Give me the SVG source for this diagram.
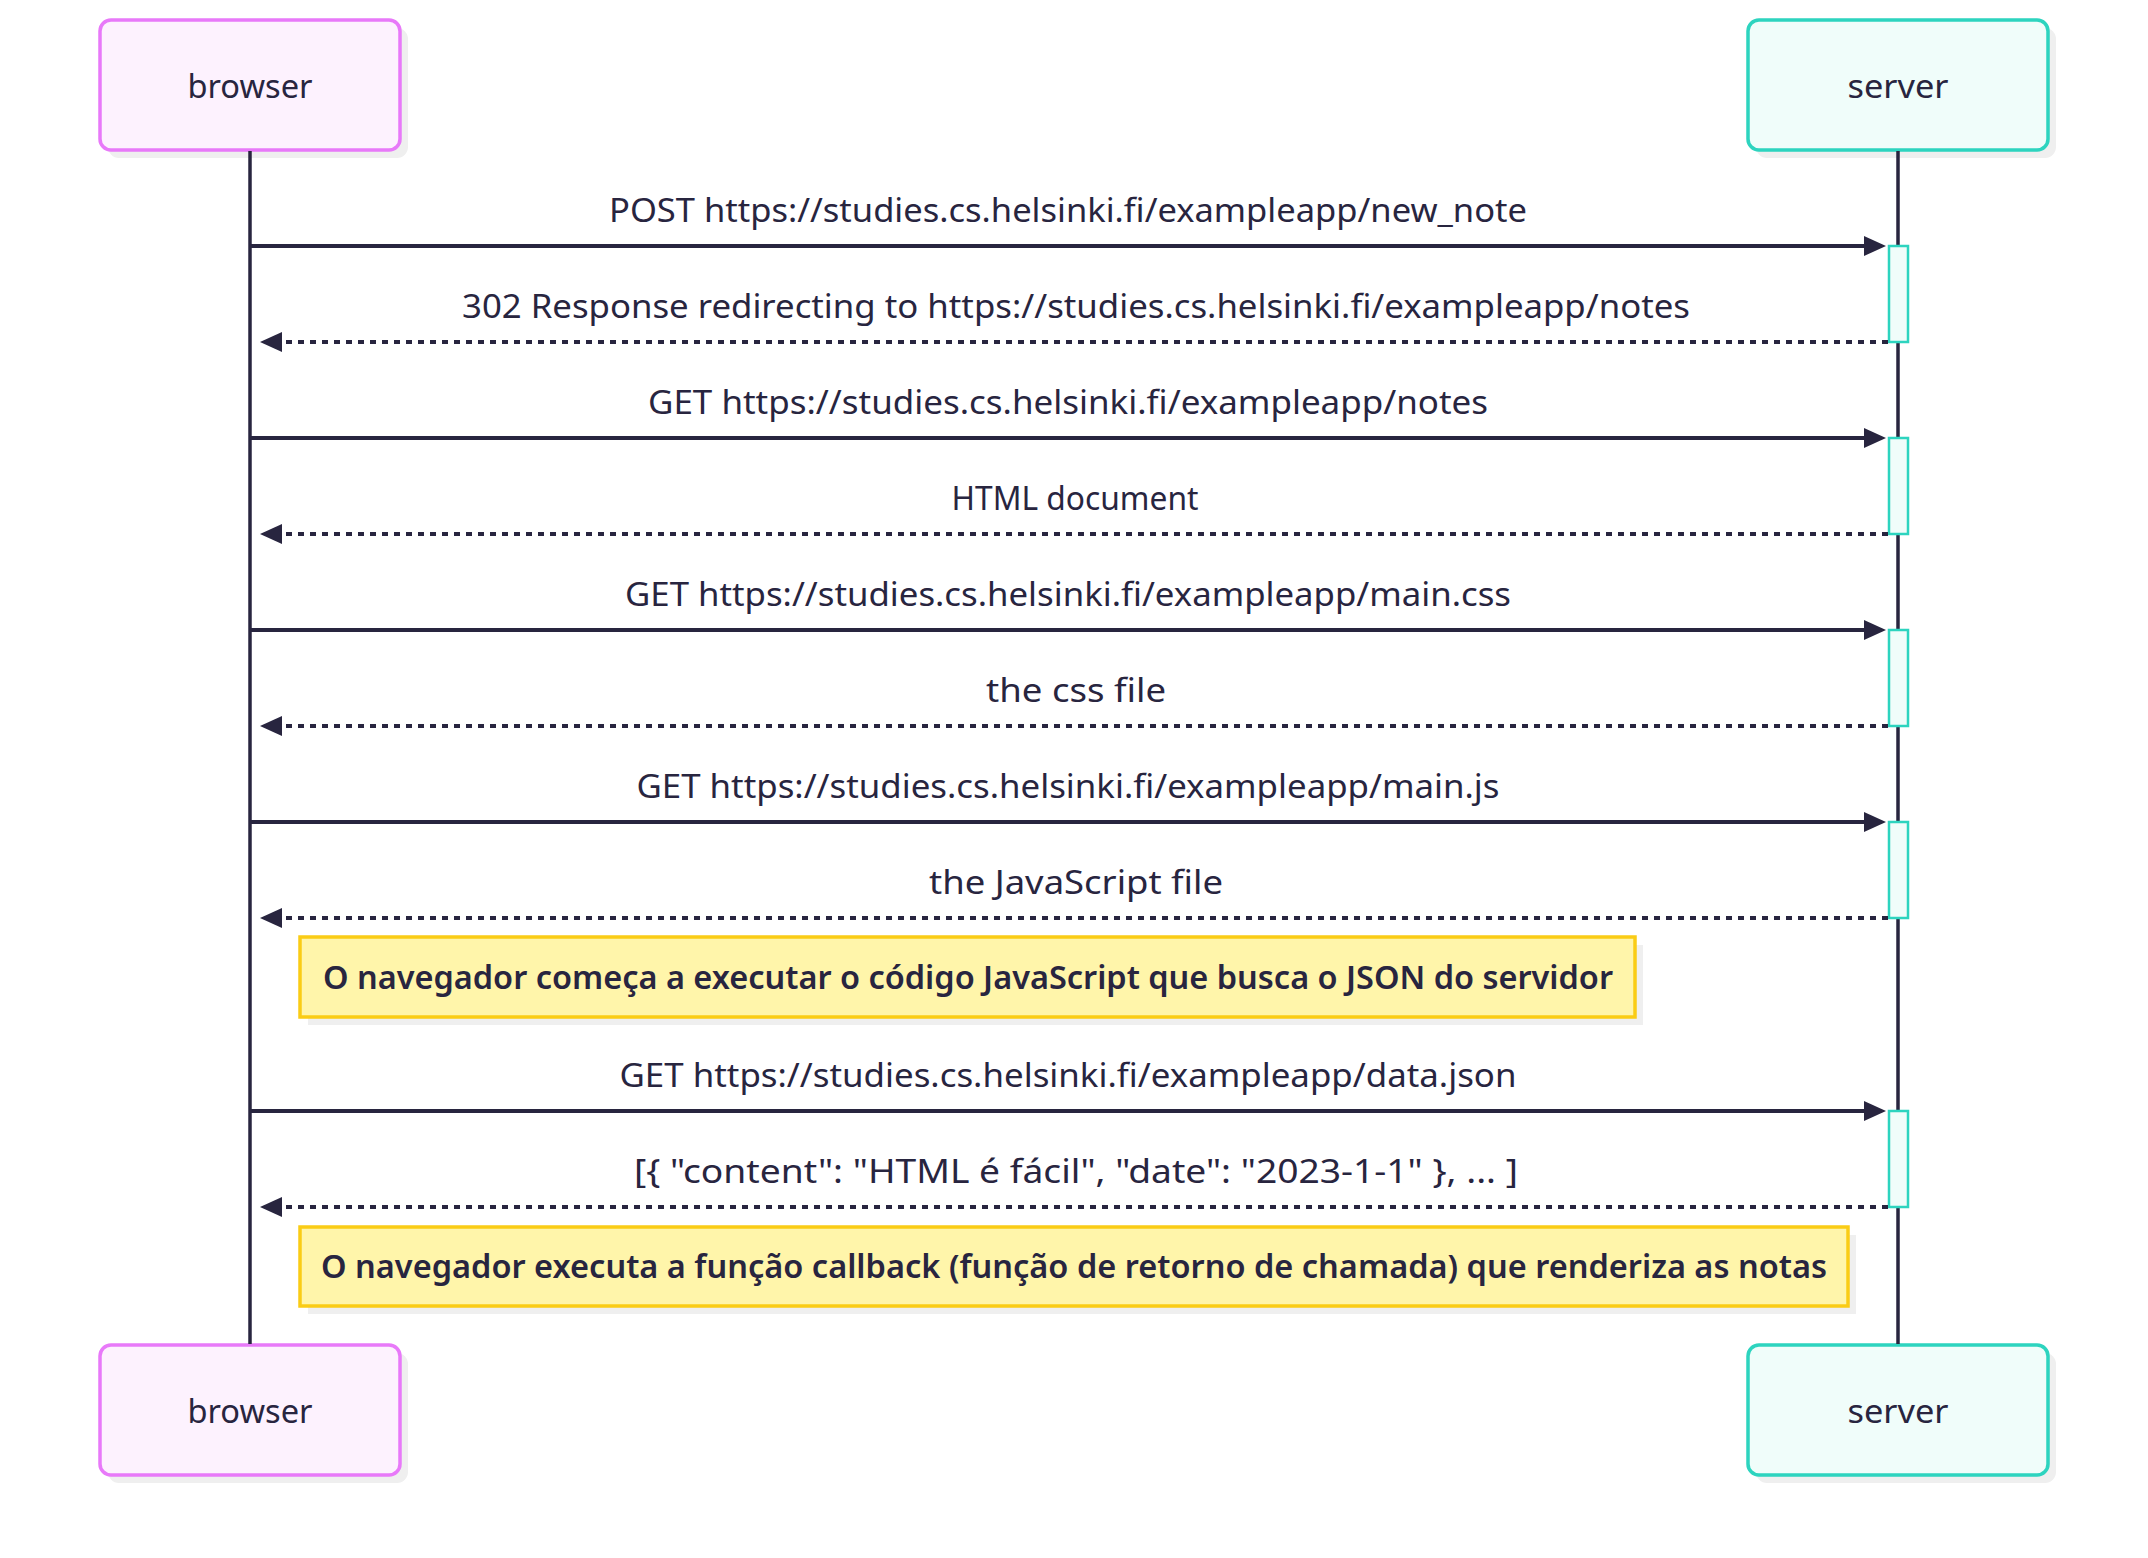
<svg xmlns="http://www.w3.org/2000/svg" width="2148" height="1558" viewBox="0 0 2148 1558">
<defs>
<marker id="arrow" viewBox="0 0 22 20" markerWidth="22" markerHeight="20" refX="12" refY="10" orient="auto" markerUnits="userSpaceOnUse">
<path d="M0,0 L22,10 L0,20 z" fill="#28253f"/>
</marker>
</defs>
<style>
.bg{fill:#ffffff}
.shadow{fill:#efefef}
.browser{fill:#fdf2fe;stroke:#e879f9;stroke-width:3.5}
.server{fill:#f0fdfa;stroke:#2dd4bf;stroke-width:3.5}
.actor-text{font-family:"Noto Sans","Open Sans",sans-serif;font-size:32px;fill:#28253f;text-anchor:middle;dominant-baseline:central}
.life{stroke:#28253f;stroke-width:3.5}
.msg{stroke:#28253f;stroke-width:4;fill:none;marker-end:url(#arrow)}
.dash{stroke:#28253f;stroke-width:4;fill:none;stroke-dasharray:6 6;marker-end:url(#arrow)}
.lbl{font-family:"Noto Sans","Open Sans",sans-serif;font-size:32px;fill:#28253f;text-anchor:middle}
.act{fill:#f0fdfa;stroke:#2dd4bf;stroke-width:2.5}
.note{fill:#fff5aa;stroke:#facc15;stroke-width:3.5}
.note-text{font-family:"Noto Sans","Roboto",sans-serif;font-size:33px;font-weight:600;fill:#28253f;text-anchor:middle}
</style>
<rect class="bg" x="0" y="0" width="2148" height="1558"/>

<g id="browser-top">
<rect class="shadow" x="108" y="28" width="300" height="130" rx="11"/>
<rect class="browser" x="100" y="20" width="300" height="130" rx="11"/>
<text class="actor-text" x="250" y="85" textLength="125" lengthAdjust="spacingAndGlyphs">browser</text>
</g>
<g id="server-top">
<rect class="shadow" x="1756" y="28" width="300" height="130" rx="11"/>
<rect class="server" x="1748" y="20" width="300" height="130" rx="11"/>
<text class="actor-text" x="1898" y="85" textLength="101" lengthAdjust="spacingAndGlyphs">server</text>
</g>
<g id="browser-bottom">
<rect class="shadow" x="108" y="1353" width="300" height="130" rx="11"/>
<rect class="browser" x="100" y="1345" width="300" height="130" rx="11"/>
<text class="actor-text" x="250" y="1410" textLength="125" lengthAdjust="spacingAndGlyphs">browser</text>
</g>
<g id="server-bottom">
<rect class="shadow" x="1756" y="1353" width="300" height="130" rx="11"/>
<rect class="server" x="1748" y="1345" width="300" height="130" rx="11"/>
<text class="actor-text" x="1898" y="1410" textLength="101" lengthAdjust="spacingAndGlyphs">server</text>
</g>

<g id="lifelines">
<line class="life" x1="250" y1="151" x2="250" y2="1344"/>
<line class="life" x1="1898" y1="151" x2="1898" y2="1344"/>
</g>

<g id="activations">
<rect class="act" x="1889" y="246" width="19" height="96"/>
<rect class="act" x="1889" y="438" width="19" height="96"/>
<rect class="act" x="1889" y="630" width="19" height="96"/>
<rect class="act" x="1889" y="822" width="19" height="96"/>
<rect class="act" x="1889" y="1111" width="19" height="96"/>
</g>

<g id="connectors">
<line class="msg" x1="250" y1="246" x2="1876" y2="246"/>
<line class="dash" x1="1888" y1="342" x2="270" y2="342"/>
<line class="msg" x1="250" y1="438" x2="1876" y2="438"/>
<line class="dash" x1="1888" y1="534" x2="270" y2="534"/>
<line class="msg" x1="250" y1="630" x2="1876" y2="630"/>
<line class="dash" x1="1888" y1="726" x2="270" y2="726"/>
<line class="msg" x1="250" y1="822" x2="1876" y2="822"/>
<line class="dash" x1="1888" y1="918" x2="270" y2="918"/>
<line class="msg" x1="250" y1="1111" x2="1876" y2="1111"/>
<line class="dash" x1="1888" y1="1207" x2="270" y2="1207"/>
</g>

<g id="labels">
<text class="lbl" x="1068" y="222" textLength="918" lengthAdjust="spacingAndGlyphs">POST https://studies.cs.helsinki.fi/exampleapp/new_note</text>
<text class="lbl" x="1076" y="318" textLength="1228" lengthAdjust="spacingAndGlyphs">302 Response redirecting to https://studies.cs.helsinki.fi/exampleapp/notes</text>
<text class="lbl" x="1068" y="414" textLength="840" lengthAdjust="spacingAndGlyphs">GET https://studies.cs.helsinki.fi/exampleapp/notes</text>
<text class="lbl" x="1075" y="510" textLength="247" lengthAdjust="spacingAndGlyphs">HTML document</text>
<text class="lbl" x="1076" y="702" textLength="180" lengthAdjust="spacingAndGlyphs">the css file</text>
<text class="lbl" x="1068" y="606" textLength="886" lengthAdjust="spacingAndGlyphs">GET https://studies.cs.helsinki.fi/exampleapp/main.css</text>
<text class="lbl" x="1068" y="798" textLength="863" lengthAdjust="spacingAndGlyphs">GET https://studies.cs.helsinki.fi/exampleapp/main.js</text>
<text class="lbl" x="1076" y="894" textLength="294" lengthAdjust="spacingAndGlyphs">the JavaScript file</text>
<text class="lbl" x="1068" y="1087" textLength="897" lengthAdjust="spacingAndGlyphs">GET https://studies.cs.helsinki.fi/exampleapp/data.json</text>
<text class="lbl" x="1076" y="1183" textLength="884" lengthAdjust="spacingAndGlyphs">[{ "content": "HTML é fácil", "date": "2023-1-1" }, ... ]</text>
</g>

<g id="note1">
<rect class="shadow" x="308" y="945" width="1335" height="80"/>
<rect class="note" x="300" y="937" width="1335" height="80"/>
<text class="note-text" x="968" y="989" textLength="1290" lengthAdjust="spacingAndGlyphs">O navegador começa a executar o código JavaScript que busca o JSON do servidor</text>
</g>
<g id="note2">
<rect class="shadow" x="308" y="1235" width="1548" height="79"/>
<rect class="note" x="300" y="1227" width="1548" height="79"/>
<text class="note-text" x="1074" y="1278" textLength="1506" lengthAdjust="spacingAndGlyphs">O navegador executa a função callback (função de retorno de chamada) que renderiza as notas</text>
</g>
</svg>
